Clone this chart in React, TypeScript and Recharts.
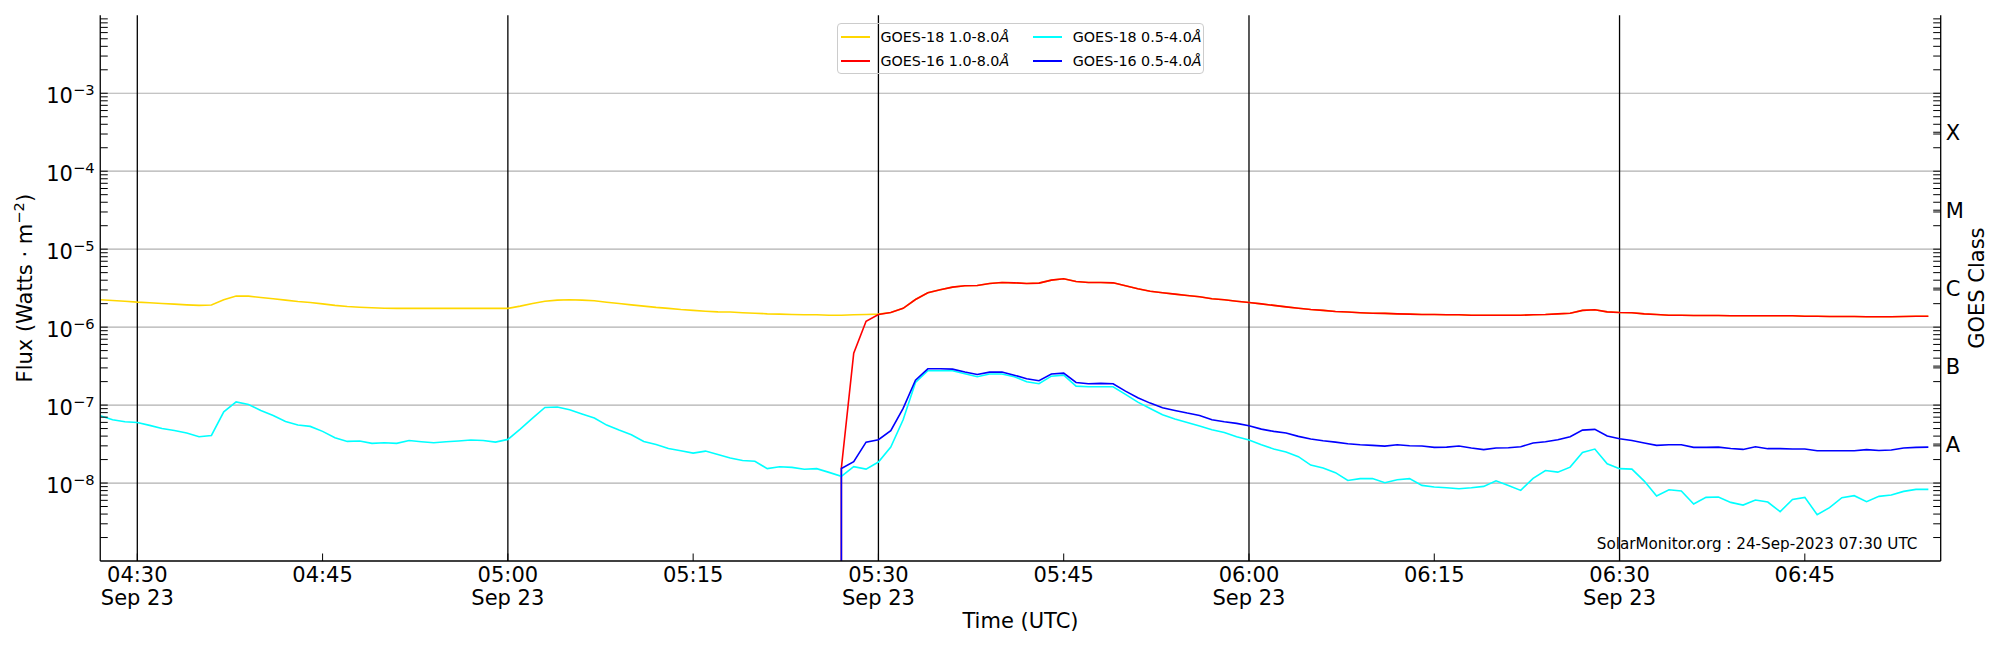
import React from 'react';
import { LineChart, Line, XAxis, YAxis, ReferenceLine, Legend } from 'recharts';

const FONT = '"DejaVu Sans", sans-serif';

// Time is in minutes relative to 04:30 UTC, 23 Sep 2023 (1-minute cadence)
const goes18StartMinute = -3;
const goes16StartMinute = 57;
const goes16GapValue = 1e-12; // GOES-16 record begins with an empty sample (off the log axis)

// GOES-18 1.0-8.0 Å (04:27 .. 06:55)
const goes18Long = [
  2.24e-6, 2.2e-6, 2.15e-6, 2.09e-6, 2.05e-6, 2.01e-6, 1.97e-6, 1.93e-6, 1.9e-6, 1.92e-6,
  2.24e-6, 2.5e-6, 2.5e-6, 2.4e-6, 2.31e-6, 2.22e-6, 2.13e-6, 2.07e-6, 1.99e-6, 1.9e-6,
  1.84e-6, 1.8e-6, 1.77e-6, 1.75e-6, 1.74e-6, 1.74e-6, 1.74e-6, 1.74e-6, 1.74e-6, 1.74e-6,
  1.74e-6, 1.74e-6, 1.74e-6, 1.74e-6, 1.86e-6, 2.01e-6, 2.15e-6, 2.22e-6, 2.24e-6, 2.22e-6,
  2.18e-6, 2.09e-6, 2.01e-6, 1.93e-6, 1.86e-6, 1.79e-6, 1.74e-6, 1.68e-6, 1.64e-6, 1.6e-6,
  1.57e-6, 1.56e-6, 1.53e-6, 1.51e-6, 1.48e-6, 1.47e-6, 1.45e-6, 1.44e-6, 1.44e-6, 1.42e-6,
  1.42e-6, 1.44e-6, 1.45e-6, 1.47e-6, 1.54e-6, 1.74e-6, 2.26e-6, 2.76e-6, 3.01e-6, 3.26e-6,
  3.39e-6, 3.42e-6, 3.63e-6, 3.74e-6, 3.7e-6, 3.63e-6, 3.67e-6, 4.01e-6, 4.17e-6, 3.85e-6,
  3.74e-6, 3.74e-6, 3.7e-6, 3.39e-6, 3.1e-6, 2.89e-6, 2.76e-6, 2.65e-6, 2.55e-6, 2.45e-6,
  2.31e-6, 2.24e-6, 2.15e-6, 2.07e-6, 1.99e-6, 1.9e-6, 1.82e-6, 1.75e-6, 1.68e-6, 1.64e-6,
  1.59e-6, 1.56e-6, 1.53e-6, 1.51e-6, 1.5e-6, 1.48e-6, 1.47e-6, 1.45e-6, 1.45e-6, 1.44e-6,
  1.44e-6, 1.42e-6, 1.42e-6, 1.42e-6, 1.42e-6, 1.42e-6, 1.44e-6, 1.45e-6, 1.48e-6, 1.51e-6,
  1.64e-6, 1.67e-6, 1.57e-6, 1.54e-6, 1.53e-6, 1.48e-6, 1.45e-6, 1.42e-6, 1.42e-6, 1.41e-6,
  1.41e-6, 1.41e-6, 1.4e-6, 1.4e-6, 1.4e-6, 1.4e-6, 1.4e-6, 1.4e-6, 1.38e-6, 1.38e-6,
  1.37e-6, 1.37e-6, 1.37e-6, 1.36e-6, 1.36e-6, 1.36e-6, 1.37e-6, 1.38e-6, 1.38e-6,
];

// GOES-18 0.5-4.0 Å (04:27 .. 06:55)
const goes18Short = [
  7.3e-8, 6.49e-8, 6.11e-8, 5.99e-8, 5.49e-8, 5.02e-8, 4.73e-8, 4.38e-8, 3.93e-8, 4.08e-8,
  8.21e-8, 1.1e-7, 1.02e-7, 8.54e-8, 7.37e-8, 6.17e-8, 5.54e-8, 5.33e-8, 4.6e-8, 3.81e-8,
  3.42e-8, 3.46e-8, 3.23e-8, 3.29e-8, 3.23e-8, 3.52e-8, 3.39e-8, 3.29e-8, 3.39e-8, 3.46e-8,
  3.56e-8, 3.52e-8, 3.35e-8, 3.63e-8, 4.92e-8, 6.81e-8, 9.33e-8, 9.43e-8, 8.71e-8, 7.67e-8,
  6.81e-8, 5.54e-8, 4.78e-8, 4.17e-8, 3.42e-8, 3.13e-8, 2.78e-8, 2.6e-8, 2.42e-8, 2.57e-8,
  2.33e-8, 2.09e-8, 1.95e-8, 1.9e-8, 1.53e-8, 1.62e-8, 1.59e-8, 1.5e-8, 1.53e-8, 1.37e-8,
  1.22e-8, 1.62e-8, 1.51e-8, 1.86e-8, 2.89e-8, 6.49e-8, 1.95e-7, 2.76e-7, 2.76e-7, 2.76e-7,
  2.52e-7, 2.31e-7, 2.5e-7, 2.5e-7, 2.31e-7, 1.99e-7, 1.88e-7, 2.35e-7, 2.42e-7, 1.75e-7,
  1.72e-7, 1.72e-7, 1.72e-7, 1.37e-7, 1.09e-7, 9.06e-8, 7.52e-8, 6.61e-8, 5.99e-8, 5.38e-8,
  4.83e-8, 4.46e-8, 3.93e-8, 3.56e-8, 3.1e-8, 2.73e-8, 2.5e-8, 2.18e-8, 1.7e-8, 1.56e-8,
  1.36e-8, 1.08e-8, 1.14e-8, 1.14e-8, 1.01e-8, 1.1e-8, 1.14e-8, 9.33e-9, 8.89e-9, 8.71e-9,
  8.46e-9, 8.71e-9, 9.06e-9, 1.07e-8, 9.33e-9, 8.05e-9, 1.15e-8, 1.45e-8, 1.38e-8, 1.6e-8,
  2.47e-8, 2.73e-8, 1.77e-8, 1.53e-8, 1.51e-8, 1.06e-8, 6.81e-9, 8.21e-9, 7.9e-9, 5.38e-9,
  6.55e-9, 6.61e-9, 5.65e-9, 5.22e-9, 6.06e-9, 5.71e-9, 4.29e-9, 6.17e-9, 6.55e-9, 3.93e-9,
  4.83e-9, 6.49e-9, 6.88e-9, 5.76e-9, 6.75e-9, 7.02e-9, 7.82e-9, 8.3e-9, 8.3e-9,
];

// GOES-16 1.0-8.0 Å (05:27 .. 06:55)
const goes16Long = [
  1.56e-8, 4.64e-7, 1.19e-6, 1.45e-6, 1.54e-6, 1.74e-6, 2.26e-6, 2.76e-6, 3.01e-6, 3.26e-6,
  3.39e-6, 3.42e-6, 3.63e-6, 3.74e-6, 3.7e-6, 3.63e-6, 3.67e-6, 4.01e-6, 4.17e-6, 3.85e-6,
  3.74e-6, 3.74e-6, 3.7e-6, 3.39e-6, 3.1e-6, 2.89e-6, 2.76e-6, 2.65e-6, 2.55e-6, 2.45e-6,
  2.31e-6, 2.24e-6, 2.15e-6, 2.07e-6, 1.99e-6, 1.9e-6, 1.82e-6, 1.75e-6, 1.68e-6, 1.64e-6,
  1.59e-6, 1.56e-6, 1.53e-6, 1.51e-6, 1.5e-6, 1.48e-6, 1.47e-6, 1.45e-6, 1.45e-6, 1.44e-6,
  1.44e-6, 1.42e-6, 1.42e-6, 1.42e-6, 1.42e-6, 1.42e-6, 1.44e-6, 1.45e-6, 1.48e-6, 1.51e-6,
  1.64e-6, 1.67e-6, 1.57e-6, 1.54e-6, 1.53e-6, 1.48e-6, 1.45e-6, 1.42e-6, 1.42e-6, 1.41e-6,
  1.41e-6, 1.41e-6, 1.4e-6, 1.4e-6, 1.4e-6, 1.4e-6, 1.4e-6, 1.4e-6, 1.38e-6, 1.38e-6,
  1.37e-6, 1.37e-6, 1.37e-6, 1.36e-6, 1.36e-6, 1.36e-6, 1.37e-6, 1.38e-6, 1.38e-6,
];

// GOES-16 0.5-4.0 Å (05:27 .. 06:55)
const goes16Short = [
  1.54e-8, 1.88e-8, 3.35e-8, 3.59e-8, 4.69e-8, 9.06e-8, 2.09e-7, 2.92e-7, 2.92e-7, 2.89e-7,
  2.65e-7, 2.47e-7, 2.65e-7, 2.65e-7, 2.42e-7, 2.18e-7, 2.05e-7, 2.5e-7, 2.57e-7, 1.95e-7,
  1.88e-7, 1.9e-7, 1.88e-7, 1.51e-7, 1.24e-7, 1.06e-7, 9.24e-8, 8.54e-8, 7.9e-8, 7.37e-8,
  6.49e-8, 6.11e-8, 5.82e-8, 5.43e-8, 4.92e-8, 4.6e-8, 4.38e-8, 3.97e-8, 3.67e-8, 3.49e-8,
  3.35e-8, 3.19e-8, 3.1e-8, 3.04e-8, 2.98e-8, 3.1e-8, 3.01e-8, 2.98e-8, 2.87e-8, 2.89e-8,
  2.98e-8, 2.81e-8, 2.68e-8, 2.81e-8, 2.84e-8, 2.92e-8, 3.26e-8, 3.39e-8, 3.59e-8, 3.93e-8,
  4.78e-8, 4.88e-8, 4.01e-8, 3.7e-8, 3.52e-8, 3.26e-8, 3.04e-8, 3.1e-8, 3.1e-8, 2.87e-8,
  2.87e-8, 2.89e-8, 2.78e-8, 2.7e-8, 2.92e-8, 2.76e-8, 2.76e-8, 2.73e-8, 2.73e-8, 2.6e-8,
  2.6e-8, 2.6e-8, 2.6e-8, 2.68e-8, 2.62e-8, 2.65e-8, 2.81e-8, 2.87e-8, 2.89e-8,
];

const seriesNames = ['GOES-18 1.0-8.0', 'GOES-16 1.0-8.0', 'GOES-18 0.5-4.0', 'GOES-16 0.5-4.0'];
const seriesUnit = 'Å';
const seriesColors = ['#ffd700', '#ff0000', '#00ffff', '#0000ff'];

const xDomain = [-3, 146];
const xTicks = [0, 15, 30, 45, 60, 75, 90, 105, 120, 135];
const xTickLabels = ['04:30', '04:45', '05:00', '05:15', '05:30', '05:45', '06:00', '06:15', '06:30', '06:45'];
const xTickDates = ['Sep 23', '', 'Sep 23', '', 'Sep 23', '', 'Sep 23', '', 'Sep 23', ''];
const dateLines = [0, 30, 60, 90, 120];

const yDomain = [1e-9, 1e-2];
const yDecadeExponents = [-8, -7, -6, -5, -4, -3];
const minorExponents = [-9, -8, -7, -6, -5, -4, -3];
const minorMultipliers = [2, 3, 4, 5, 6, 7, 8, 9];
const goesClassLabels = ['A', 'B', 'C', 'M', 'X'];
const goesClassExponents = [-7.5, -6.5, -5.5, -4.5, -3.5];

const xAxisTitle = 'Time (UTC)';
const rightAxisTitle = 'GOES Class';
const creditText = 'SolarMonitor.org : 24-Sep-2023 07:30 UTC';

const toSeries = (start: number, values: number[]) => values.map((v, i) => ({ t: start + i, v }));
const goes18LongData = toSeries(goes18StartMinute, goes18Long);
const goes18ShortData = toSeries(goes18StartMinute, goes18Short);
const goes16LongData = [{ t: goes16StartMinute, v: goes16GapValue }, ...toSeries(goes16StartMinute, goes16Long)];
const goes16ShortData = [{ t: goes16StartMinute, v: goes16GapValue }, ...toSeries(goes16StartMinute, goes16Short)];
const seriesData = [goes18LongData, goes16LongData, goes18ShortData, goes16ShortData];

const decadeValues = yDecadeExponents.map((e) => Math.pow(10, e));
const minorValues: number[] = [];
minorExponents.forEach((e) => minorMultipliers.forEach((k) => minorValues.push(k * Math.pow(10, e))));
const classValues = goesClassExponents.map((e) => Math.pow(10, e));
const leftTicks = [...decadeValues, ...minorValues];
const rightTicks = [...classValues, ...decadeValues, ...minorValues];

const sameLog = (a: number, b: number) => Math.abs(Math.log10(a) - Math.log10(b)) < 1e-6;
const TICK_LEN = 7.5;
const TICK_FONT = 21;

const LeftTick = (props: any) => {
  const { x, y, payload } = props;
  const idx = decadeValues.findIndex((d) => sameLog(d, payload.value));
  return (
    <g>
      <line x1={x} x2={x + TICK_LEN} y1={y} y2={y} stroke="#000" strokeWidth={1} />
      {idx >= 0 && (
        <text x={x - 5.7} y={y + 10} textAnchor="end" fontFamily={FONT} fontSize={TICK_FONT} fill="#000">
          10
          <tspan dy={-8} fontSize={14.7}>{'\u2212' + Math.abs(yDecadeExponents[idx])}</tspan>
        </text>
      )}
    </g>
  );
};

const RightTick = (props: any) => {
  const { x, y, payload } = props;
  const idx = classValues.findIndex((d) => sameLog(d, payload.value));
  return (
    <g>
      <line x1={x - TICK_LEN} x2={x} y1={y} y2={y} stroke="#000" strokeWidth={1} />
      {idx >= 0 && (
        <text x={x + 5} y={y + 7.6} textAnchor="start" fontFamily={FONT} fontSize={TICK_FONT} fill="#000">
          {goesClassLabels[idx]}
        </text>
      )}
    </g>
  );
};

const BottomTick = (props: any) => {
  const { x, y, payload } = props;
  const idx = xTicks.indexOf(payload.value);
  return (
    <g>
      <line x1={x} x2={x} y1={y} y2={y - TICK_LEN} stroke="#000" strokeWidth={1} />
      <text x={x} y={y + 20.9} textAnchor="middle" fontFamily={FONT} fontSize={TICK_FONT} fill="#000">
        {xTickLabels[idx]}
      </text>
      {xTickDates[idx] && (
        <text x={x} y={y + 43.5} textAnchor="middle" fontFamily={FONT} fontSize={TICK_FONT} fill="#000">
          {xTickDates[idx]}
        </text>
      )}
    </g>
  );
};

const TimeLabel = (props: any) => {
  const { viewBox } = props;
  return (
    <text x={viewBox.x + viewBox.width / 2} y={viewBox.y + 67} textAnchor="middle" fontFamily={FONT} fontSize={TICK_FONT} fill="#000">
      {xAxisTitle}
    </text>
  );
};

const FluxLabel = (props: any) => {
  const { viewBox } = props;
  const cx = viewBox.x + 32.3;
  const cy = viewBox.y + viewBox.height / 2;
  return (
    <text transform={`translate(${cx},${cy}) rotate(-90)`} textAnchor="middle" fontFamily={FONT} fontSize={TICK_FONT} fill="#000">
      Flux (Watts · m
      <tspan dy={-8} fontSize={14.7}>{'\u22122'}</tspan>
      <tspan dy={8}>)</tspan>
    </text>
  );
};

const ClassLabel = (props: any) => {
  const { viewBox } = props;
  const cx = viewBox.x + 43.3;
  const cy = viewBox.y + viewBox.height / 2;
  return (
    <text transform={`translate(${cx},${cy}) rotate(-90)`} textAnchor="middle" fontFamily={FONT} fontSize={TICK_FONT} fill="#000">
      {rightAxisTitle}
    </text>
  );
};

const LegendBox = () => (
  <div
    style={{
      position: 'relative',
      boxSizing: 'border-box',
      width: 367.6,
      height: 51.6,
      border: '1px solid #cccccc',
      borderRadius: 4,
      fontFamily: FONT,
      fontSize: 14.3,
      color: '#000',
    }}
  >
    {seriesNames.map((name, i) => {
      const col = Math.floor(i / 2);
      const row = i % 2;
      return (
        <div
          key={name}
          style={{
            position: 'absolute',
            left: 3.3 + col * 192.3,
            top: 13.6 + row * 23.7 - 8,
            height: 16,
            display: 'flex',
            alignItems: 'center',
            whiteSpace: 'nowrap',
          }}
        >
          <div style={{ width: 29, height: 1.6, background: seriesColors[i], flex: 'none' }} />
          <span style={{ marginLeft: 10.5, lineHeight: '16px' }}>
            {name}
            <i>{seriesUnit}</i>
          </span>
        </div>
      );
    })}
  </div>
);

export default function App() {
  return (
    <div style={{ position: 'absolute', left: 0, top: 0, width: 2000, height: 650, background: '#fff', fontFamily: FONT }}>
      <LineChart width={2000} height={650} margin={{ top: 15.3, right: 0, bottom: 0, left: 0 }}>
        <XAxis
          dataKey="t"
          type="number"
          domain={xDomain}
          allowDataOverflow
          ticks={xTicks}
          interval={0}
          height={89}
          tickLine={false}
          tickSize={0}
          tickMargin={0}
          axisLine={{ stroke: '#000', strokeWidth: 1.3 }}
          tick={(p: any) => <BottomTick {...p} />}
          label={{ content: TimeLabel }}
        />
        <XAxis
          xAxisId="top"
          orientation="top"
          dataKey="t"
          type="number"
          domain={xDomain}
          allowDataOverflow
          height={0}
          tick={false}
          tickLine={false}
          axisLine={{ stroke: '#000', strokeWidth: 1.3 }}
        />
        <YAxis
          type="number"
          scale="log"
          domain={yDomain}
          allowDataOverflow
          width={100.25}
          ticks={leftTicks}
          interval={0}
          tickLine={false}
          tickSize={0}
          tickMargin={0}
          axisLine={{ stroke: '#000', strokeWidth: 1.3 }}
          tick={(p: any) => <LeftTick {...p} />}
          label={{ content: FluxLabel }}
        />
        <YAxis
          yAxisId="right"
          orientation="right"
          type="number"
          scale="log"
          domain={yDomain}
          allowDataOverflow
          width={59.3}
          ticks={rightTicks}
          interval={0}
          tickLine={false}
          tickSize={0}
          tickMargin={0}
          axisLine={{ stroke: '#000', strokeWidth: 1.3 }}
          tick={(p: any) => <RightTick {...p} />}
          label={{ content: ClassLabel }}
        />
        {decadeValues.map((v) => (
          <ReferenceLine key={`h${v}`} y={v} stroke="#b0b0b0" strokeWidth={1.2} />
        ))}
        {dateLines.map((t) => (
          <ReferenceLine key={`v${t}`} x={t} stroke="#000" strokeWidth={1.3} />
        ))}
        {seriesData.map((data, i) => (
          <Line
            key={seriesNames[i]}
            data={data}
            dataKey="v"
            name={seriesNames[i] + seriesUnit}
            type="linear"
            stroke={seriesColors[i]}
            strokeWidth={1.6}
            dot={false}
            activeDot={false}
            isAnimationActive={false}
          />
        ))}
        <Legend
          layout="vertical"
          align="center"
          verticalAlign="middle"
          wrapperStyle={{ left: 836.7, top: 22.7, right: 'auto', bottom: 'auto', width: 367.6, height: 51.6 }}
          content={() => <LegendBox />}
        />
      </LineChart>
      <div
        style={{
          position: 'absolute',
          right: 82.6,
          top: 536.6,
          fontFamily: FONT,
          fontSize: 15.2,
          lineHeight: '15px',
          whiteSpace: 'nowrap',
          color: '#000',
        }}
      >
        {creditText}
      </div>
    </div>
  );
}
